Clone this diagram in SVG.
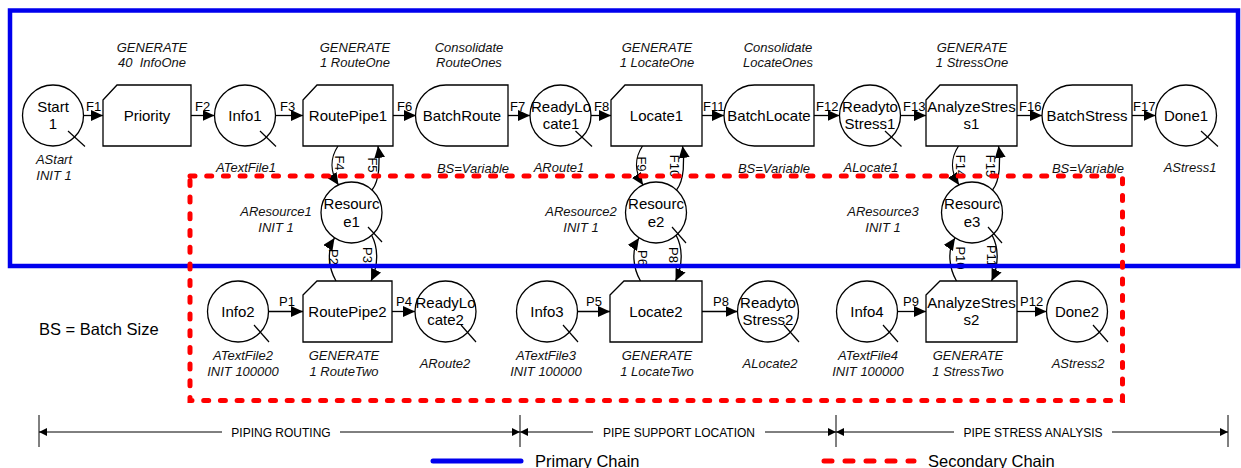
<svg xmlns="http://www.w3.org/2000/svg" width="1241" height="468" viewBox="0 0 1241 468">
<style>
.sh{fill:#fff;stroke:#000;stroke-width:1.3}
.tk{stroke:#000;stroke-width:1.2;fill:none}
.cn{stroke:#000;stroke-width:1.3;fill:none}
.lb{font-family:"Liberation Sans",Arial,sans-serif;font-size:15px;text-anchor:middle;fill:#000}
.it{font-family:"Liberation Sans",Arial,sans-serif;font-size:13px;font-style:italic;text-anchor:middle;fill:#111}
.fl{font-family:"Liberation Sans",Arial,sans-serif;font-size:13px;fill:#000}
.rl{font-family:"Liberation Sans",Arial,sans-serif;font-size:13px;fill:#000;text-anchor:middle}
.dm{font-family:"Liberation Sans",Arial,sans-serif;font-size:12px;text-anchor:middle;fill:#000}
.dl{stroke:#000;stroke-width:1;fill:none}
.lg{font-family:"Liberation Sans",Arial,sans-serif;font-size:16.5px;fill:#000}
</style>
<defs>
<marker id="ah" viewBox="0 0 12 11" refX="12" refY="5.5" markerWidth="12" markerHeight="11" markerUnits="userSpaceOnUse" orient="auto">
<path d="M0,0 L12,5.5 L0,11 z" fill="#000"/>
</marker>
<marker id="da" viewBox="0 0 8 8" refX="8" refY="4" markerWidth="8" markerHeight="8" markerUnits="userSpaceOnUse" orient="auto">
<path d="M0,0 L8,4 L0,8 z" fill="#000"/>
</marker>
</defs>
<rect width="1241" height="468" fill="#fff"/>

<!-- connectors -->
<g id="connectors">
<line class="cn" x1="83.5" y1="115.5" x2="103" y2="115.5" marker-end="url(#ah)"/>
<line class="cn" x1="191" y1="115.5" x2="214.5" y2="115.5" marker-end="url(#ah)"/>
<line class="cn" x1="275.5" y1="115.5" x2="303" y2="115.5" marker-end="url(#ah)"/>
<line class="cn" x1="393" y1="115.5" x2="416" y2="115.5" marker-end="url(#ah)"/>
<line class="cn" x1="508" y1="115.5" x2="530" y2="115.5" marker-end="url(#ah)"/>
<line class="cn" x1="591" y1="115.5" x2="611" y2="115.5" marker-end="url(#ah)"/>
<line class="cn" x1="702" y1="115.5" x2="724" y2="115.5" marker-end="url(#ah)"/>
<line class="cn" x1="814" y1="115.5" x2="839.5" y2="115.5" marker-end="url(#ah)"/>
<line class="cn" x1="900.5" y1="115.5" x2="926" y2="115.5" marker-end="url(#ah)"/>
<line class="cn" x1="1017" y1="115.5" x2="1042" y2="115.5" marker-end="url(#ah)"/>
<line class="cn" x1="1132" y1="115.5" x2="1155.5" y2="115.5" marker-end="url(#ah)"/>

<line class="cn" x1="268.5" y1="311.5" x2="303" y2="311.5" marker-end="url(#ah)"/>
<line class="cn" x1="392" y1="311.5" x2="415" y2="311.5" marker-end="url(#ah)"/>
<line class="cn" x1="577.5" y1="311.5" x2="610" y2="311.5" marker-end="url(#ah)"/>
<line class="cn" x1="702" y1="311.5" x2="737.5" y2="311.5" marker-end="url(#ah)"/>
<line class="cn" x1="897.5" y1="311.5" x2="926" y2="311.5" marker-end="url(#ah)"/>
<line class="cn" x1="1017" y1="311.5" x2="1046.5" y2="311.5" marker-end="url(#ah)"/>

<!-- resource loops: rx = 351.5, 656, 972 -->
<path class="cn" d="M338,146 C330,158 330,172 338.5,185" marker-end="url(#ah)"/>
<path class="cn" d="M372,190 C380,180 380,160 378,146" marker-end="url(#ah)"/>
<path class="cn" d="M336,281 C328.5,268 326.5,250 334.5,238" marker-end="url(#ah)"/>
<path class="cn" d="M371.5,235 C378.5,248 378.5,265 371,281" marker-end="url(#ah)"/>

<path class="cn" d="M642.5,146 C634.5,158 634.5,172 643,185" marker-end="url(#ah)"/>
<path class="cn" d="M676.5,190 C684.5,180 684.5,160 682.5,146" marker-end="url(#ah)"/>
<path class="cn" d="M640.5,281 C633,268 631,250 639,238" marker-end="url(#ah)"/>
<path class="cn" d="M676,235 C683,248 683,265 675.5,281" marker-end="url(#ah)"/>

<path class="cn" d="M958.5,146 C950.5,158 950.5,172 959,185" marker-end="url(#ah)"/>
<path class="cn" d="M992.5,190 C1000.5,180 1000.5,160 998.5,146" marker-end="url(#ah)"/>
<path class="cn" d="M956.5,281 C949,268 947,250 955,238" marker-end="url(#ah)"/>
<path class="cn" d="M992,235 C999,248 999,265 991.5,281" marker-end="url(#ah)"/>

<!-- connector labels -->
<text class="fl" x="86" y="110.5">F1</text>
<text class="fl" x="195" y="110.5">F2</text>
<text class="fl" x="280" y="110.5">F3</text>
<text class="fl" x="397" y="110.5">F6</text>
<text class="fl" x="510" y="110.5">F7</text>
<text class="fl" x="594" y="110.5">F8</text>
<text class="fl" x="703" y="110.5">F11</text>
<text class="fl" x="816" y="110.5">F12</text>
<text class="fl" x="903" y="110.5">F13</text>
<text class="fl" x="1019" y="110.5">F16</text>
<text class="fl" x="1133" y="110.5">F17</text>
<text class="fl" x="279" y="306">P1</text>
<text class="fl" x="396" y="306">P4</text>
<text class="fl" x="586" y="306">P5</text>
<text class="fl" x="713" y="306">P8</text>
<text class="fl" x="903" y="306">P9</text>
<text class="fl" x="1020" y="306">P12</text>

<text class="rl" transform="translate(339,163) rotate(90)" y="4.5">F4</text>
<text class="rl" transform="translate(372.5,165) rotate(90)" y="4.5">F5</text>
<text class="rl" transform="translate(333,257) rotate(90)" y="4.5">P2</text>
<text class="rl" transform="translate(367.5,255) rotate(90)" y="4.5">P3</text>
<text class="rl" transform="translate(641.5,164) rotate(90)" y="4.5">F9</text>
<text class="rl" transform="translate(674,166) rotate(90)" y="4.5">F10</text>
<text class="rl" transform="translate(642.5,258) rotate(90)" y="4.5">P6</text>
<text class="rl" transform="translate(673.5,255) rotate(90)" y="4.5">P8</text>
<text class="rl" transform="translate(960,166) rotate(90)" y="4.5">F14</text>
<text class="rl" transform="translate(990,166) rotate(90)" y="4.5">F15</text>
<text class="rl" transform="translate(960,258) rotate(90)" y="4.5">P10</text>
<text class="rl" transform="translate(991,256) rotate(90)" y="4.5">P11</text>
</g>

<!-- top row -->
<g id="Start1">
<circle class="sh" cx="53" cy="115.5" r="30.5"/>
<line class="tk" x1="68" y1="131" x2="85" y2="146.5"/>
<text class="lb" x="53" y="112">Start</text><text class="lb" x="53" y="129">1</text>
<text class="it" x="54" y="164">AStart</text><text class="it" x="54" y="180">INIT 1</text>
</g>
<g id="Priority">
<path class="sh" d="M103,100 L117,85 H191 V146 H103 Z"/>
<text class="lb" x="147" y="121">Priority</text>
<text class="it" x="152" y="52">GENERATE</text><text class="it" x="152" y="67" xml:space="preserve">40  InfoOne</text>
</g>
<g id="Info1">
<circle class="sh" cx="245" cy="115.5" r="30.5"/>
<line class="tk" x1="260" y1="131" x2="276" y2="146.5"/>
<text class="lb" x="245" y="121">Info1</text>
<text class="it" x="246" y="172">ATextFile1</text>
</g>
<g id="RoutePipe1">
<path class="sh" d="M303,100 L317,85 H393 V146 H303 Z"/>
<text class="lb" x="348" y="121">RoutePipe1</text>
<text class="it" x="355" y="52">GENERATE</text><text class="it" x="355" y="67">1 RouteOne</text>
</g>
<g id="BatchRoute">
<path class="sh" d="M446,85 H508 V146 H446 A30.5,30.5 0 0 1 446,85 Z"/>
<text class="lb" x="462" y="121">BatchRoute</text>
<text class="it" x="469" y="52">Consolidate</text><text class="it" x="469" y="67">RouteOnes</text>
<text class="it" x="473" y="173">BS=Variable</text>
</g>
<g id="ReadyLocate1">
<circle class="sh" cx="560.5" cy="115.5" r="30.5"/>
<line class="tk" x1="575.5" y1="131" x2="592" y2="146.5"/>
<text class="lb" x="561" y="112">ReadyLo</text><text class="lb" x="561" y="129">cate1</text>
<text class="it" x="559" y="172">ARoute1</text>
</g>
<g id="Locate1">
<path class="sh" d="M611,100 L625,85 H702 V146 H611 Z"/>
<text class="lb" x="656.5" y="121">Locate1</text>
<text class="it" x="657" y="52">GENERATE</text><text class="it" x="657" y="67">1 LocateOne</text>
</g>
<g id="BatchLocate">
<path class="sh" d="M754.5,85 H814 V146 H754.5 A30.5,30.5 0 0 1 754.5,85 Z"/>
<text class="lb" x="769" y="121">BatchLocate</text>
<text class="it" x="778" y="52">Consolidate</text><text class="it" x="778" y="67">LocateOnes</text>
<text class="it" x="774" y="173">BS=Variable</text>
</g>
<g id="ReadytoStress1">
<circle class="sh" cx="870" cy="115.5" r="30.5"/>
<line class="tk" x1="885" y1="131" x2="901.5" y2="146.5"/>
<text class="lb" x="870" y="112">Readyto</text><text class="lb" x="870" y="129">Stress1</text>
<text class="it" x="871" y="172">ALocate1</text>
</g>
<g id="AnalyzeStress1">
<path class="sh" d="M926,100 L940,85 H1017 V146 H926 Z"/>
<text class="lb" x="971.5" y="112">AnalyzeStres</text><text class="lb" x="971.5" y="129">s1</text>
<text class="it" x="972" y="52">GENERATE</text><text class="it" x="972" y="67">1 StressOne</text>
</g>
<g id="BatchStress">
<path class="sh" d="M1072.5,85 H1132 V146 H1072.5 A30.5,30.5 0 0 1 1072.5,85 Z"/>
<text class="lb" x="1087" y="121">BatchStress</text>
<text class="it" x="1088" y="173">BS=Variable</text>
</g>
<g id="Done1">
<circle class="sh" cx="1186" cy="115.5" r="30.5"/>
<line class="tk" x1="1201" y1="131" x2="1218" y2="146.5"/>
<text class="lb" x="1186" y="121">Done1</text>
<text class="it" x="1190" y="172">AStress1</text>
</g>

<!-- resources -->
<g id="Resource1">
<circle class="sh" cx="351.5" cy="212.5" r="30.5"/>
<line class="tk" x1="368" y1="227" x2="382" y2="242"/>
<text class="lb" x="351.5" y="208.5">Resourc</text><text class="lb" x="351.5" y="226.5">e1</text>
<text class="it" x="276" y="216">AResource1</text><text class="it" x="276" y="232">INIT 1</text>
</g>
<g id="Resource2">
<circle class="sh" cx="656" cy="212.5" r="30.5"/>
<line class="tk" x1="672" y1="227" x2="686" y2="243"/>
<text class="lb" x="656" y="208.5">Resourc</text><text class="lb" x="656" y="226.5">e2</text>
<text class="it" x="581" y="216">AResource2</text><text class="it" x="581" y="232">INIT 1</text>
</g>
<g id="Resource3">
<circle class="sh" cx="972" cy="212.5" r="30.5"/>
<line class="tk" x1="988" y1="227" x2="1002" y2="243"/>
<text class="lb" x="972" y="208.5">Resourc</text><text class="lb" x="972" y="226.5">e3</text>
<text class="it" x="883" y="216">AResource3</text><text class="it" x="883" y="232">INIT 1</text>
</g>

<!-- bottom row -->
<g id="Info2">
<circle class="sh" cx="238" cy="311.5" r="30.5"/>
<line class="tk" x1="254" y1="325" x2="269" y2="342"/>
<text class="lb" x="238" y="317">Info2</text>
<text class="it" x="243" y="360">ATextFile2</text><text class="it" x="243" y="376">INIT 100000</text>
</g>
<g id="RoutePipe2">
<path class="sh" d="M303,295 L317,281 H392 V342 H303 Z"/>
<text class="lb" x="347.5" y="317">RoutePipe2</text>
<text class="it" x="344" y="360">GENERATE</text><text class="it" x="344" y="376">1 RouteTwo</text>
</g>
<g id="ReadyLocate2">
<circle class="sh" cx="445.5" cy="311.5" r="30.5"/>
<line class="tk" x1="461" y1="325" x2="476" y2="342"/>
<text class="lb" x="445.5" y="308">ReadyLo</text><text class="lb" x="445.5" y="325">cate2</text>
<text class="it" x="445" y="368">ARoute2</text>
</g>
<g id="Info3">
<circle class="sh" cx="547" cy="311.5" r="30.5"/>
<line class="tk" x1="563" y1="325" x2="578" y2="342"/>
<text class="lb" x="547" y="317">Info3</text>
<text class="it" x="546" y="360">ATextFile3</text><text class="it" x="546" y="376">INIT 100000</text>
</g>
<g id="Locate2">
<path class="sh" d="M610,295 L624,281 H702 V342 H610 Z"/>
<text class="lb" x="656" y="317">Locate2</text>
<text class="it" x="657" y="360">GENERATE</text><text class="it" x="657" y="376">1 LocateTwo</text>
</g>
<g id="ReadytoStress2">
<circle class="sh" cx="768" cy="311.5" r="30.5"/>
<line class="tk" x1="784" y1="325" x2="799" y2="342"/>
<text class="lb" x="768" y="308">Readyto</text><text class="lb" x="768" y="325">Stress2</text>
<text class="it" x="770" y="368">ALocate2</text>
</g>
<g id="Info4">
<circle class="sh" cx="867" cy="311.5" r="30.5"/>
<line class="tk" x1="883" y1="325" x2="898" y2="342"/>
<text class="lb" x="867" y="317">Info4</text>
<text class="it" x="868" y="360">ATextFile4</text><text class="it" x="868" y="376">INIT 100000</text>
</g>
<g id="AnalyzeStress2">
<path class="sh" d="M926,295 L940,281 H1017 V342 H926 Z"/>
<text class="lb" x="971.5" y="308">AnalyzeStres</text><text class="lb" x="971.5" y="325">s2</text>
<text class="it" x="968" y="360">GENERATE</text><text class="it" x="968" y="376">1 StressTwo</text>
</g>
<g id="Done2">
<circle class="sh" cx="1077" cy="311.5" r="30.5"/>
<line class="tk" x1="1093" y1="325" x2="1108" y2="342"/>
<text class="lb" x="1077" y="317">Done2</text>
<text class="it" x="1078" y="368">AStress2</text>
</g>

<text class="lg" x="39" y="335">BS = Batch Size</text>

<!-- chain frames -->
<g id="frames">
<rect x="10" y="10.5" width="1228" height="255.5" fill="none" stroke="#0000ee" stroke-width="4.5"/>
<rect x="190" y="176" width="932.5" height="224.5" fill="none" stroke="#ff0000" stroke-width="5" stroke-linecap="round" stroke-dasharray="5 11.7"/>
</g>

<!-- dimensions -->
<g id="dimensions">
<line class="dl" x1="39" y1="415" x2="39" y2="447" stroke-width="1.3"/>
<line class="dl" x1="520" y1="415" x2="520" y2="447" stroke-width="1.3"/>
<line class="dl" x1="836" y1="415" x2="836" y2="447" stroke-width="1.3"/>
<line class="dl" x1="1228" y1="415" x2="1228" y2="447" stroke-width="1.3"/>
<line class="dl" x1="222" y1="432" x2="39" y2="432" marker-end="url(#da)"/>
<line class="dl" x1="340" y1="432" x2="520" y2="432" marker-end="url(#da)"/>
<text class="dm" x="281" y="436.5">PIPING ROUTING</text>
<line class="dl" x1="593" y1="432" x2="520" y2="432" marker-end="url(#da)"/>
<line class="dl" x1="765" y1="432" x2="836" y2="432" marker-end="url(#da)"/>
<text class="dm" x="679" y="436.5">PIPE SUPPORT LOCATION</text>
<line class="dl" x1="954" y1="432" x2="836" y2="432" marker-end="url(#da)"/>
<line class="dl" x1="1112" y1="432" x2="1228" y2="432" marker-end="url(#da)"/>
<text class="dm" x="1033" y="436.5">PIPE STRESS ANALYSIS</text>
</g>

<!-- legend -->
<g id="legend">
<line x1="433" y1="461" x2="521" y2="461" stroke="#0000ee" stroke-width="5" stroke-linecap="round"/>
<text class="lg" x="535" y="467">Primary Chain</text>
<line x1="824" y1="461" x2="914" y2="461" stroke="#ff0000" stroke-width="5" stroke-linecap="round" stroke-dasharray="8 13"/>
<text class="lg" x="928" y="467">Secondary Chain</text>
</g>
</svg>
